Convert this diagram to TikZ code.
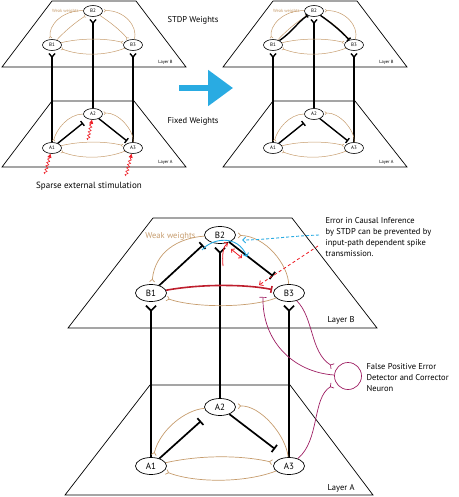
\documentclass[tikz,border=0pt]{standalone}
\usepackage{fontspec}
\setmainfont{PT Sans}
\usetikzlibrary{arrows.meta,shapes.geometric,decorations.pathmorphing}

\definecolor{tan}{RGB}{198,156,109}
\definecolor{sky}{RGB}{41,171,226}
\definecolor{spike}{RGB}{237,28,36}
\definecolor{darkred}{RGB}{190,30,45}
\definecolor{purp}{RGB}{158,31,99}

\begin{document}
\begin{tikzpicture}[x=1pt,y=-1pt,
  plane/.style={line width=0.7pt},
  nsmall/.style={draw, ellipse, minimum width=19pt, minimum height=11pt, inner sep=0pt, line width=0.6pt, font=\fontsize{5}{6}\selectfont},
  nbig/.style={draw, ellipse, minimum width=31pt, minimum height=17pt, inner sep=0pt, line width=0.7pt, font=\fontsize{9}{10}\selectfont},
  axonS/.style={line width=1.4pt, shorten >=2pt, -{Straight Barb[reversed, length=3.5pt, width=6pt]}},
  axon/.style={line width=1.7pt, shorten >=3pt, -{Straight Barb[reversed, length=5pt, width=10pt]}},
  latS/.style={line width=1.4pt, -{Bar[width=6pt]}},
  lat/.style={line width=1.7pt, -{Bar[width=9pt]}},
  weakS/.style={tan, line width=0.5pt, shorten >=1pt, -{Straight Barb[reversed, length=1.5pt, width=3pt]}},
  weak/.style={tan, line width=0.7pt, shorten >=2pt, -{Straight Barb[reversed, length=2.5pt, width=5pt]}},
  stim/.style={spike, line width=0.6pt, decorate, decoration={snake, amplitude=1.3pt, segment length=3.5pt, post length=4pt}, -{Triangle[length=4pt, width=4pt]}},
  label/.style={font=\fontsize{8.5}{11}\selectfont},
  tiny/.style={font=\fontsize{4.5}{5}\selectfont}
]
\useasboundingbox (0,0) rectangle (458,497);

% two small networks: before and after STDP
\foreach \sx/\n in {0/L,221/R}{
  \begin{scope}[xshift=\sx pt]
    \draw[plane] (2,67) -- (52,1) -- (136,1) -- (186,67) -- cycle;
    \draw[plane] (2,167) -- (52,101) -- (134,101) -- (186,167) -- cycle;
    \node[tiny, anchor=east] at (176,62) {Layer B};
    \node[tiny, anchor=east] at (176,162) {Layer A};
    \node[tiny, tan, anchor=east] at (82,11) {Weak weights};

    \node[nsmall] (B2\n) at (93,11) {B2};
    \node[nsmall] (B1\n) at (52,45) {B1};
    \node[nsmall] (B3\n) at (133,45) {B3};
    \node[nsmall] (A2\n) at (93,114) {A2};
    \node[nsmall] (A1\n) at (52,148) {A1};
    \node[nsmall] (A3\n) at (133,148) {A3};

    \draw[axonS] (A1\n) -- (B1\n);
    \draw[axonS] (A2\n) -- (B2\n);
    \draw[axonS] (A3\n) -- (B3\n);

    \coordinate (t1\n) at (83,123);
    \coordinate (t2\n) at (127,141);
    \draw[latS] (A1\n) -- (t1\n);
    \draw[latS] (A2\n) -- (t2\n);

    % weak lateral weights
    \draw[weakS] (B2\n) .. controls (62,10) and (48,26) .. (B1\n);
    \draw[weakS] (B1\n) .. controls (66,30) and (76,22) .. (B2\n);
    \draw[weakS] (B3\n) .. controls (138,26) and (124,10) .. (B2\n);
    \draw[weakS] (B2\n) .. controls (110,22) and (120,30) .. (B3\n);
    \draw[weakS] (B1\n) .. controls (80,38) and (105,38) .. (B3\n);
    \draw[weakS] (B3\n) .. controls (105,56) and (80,56) .. (B1\n);
    \draw[weakS] (A2\n) .. controls (68,114) and (56,130) .. (A1\n);
    \draw[weakS] (A3\n) .. controls (134,130) and (118,112) .. (A2\n);
    \draw[weakS] (A1\n) .. controls (80,141) and (105,141) .. (A3\n);
    \draw[weakS] (A3\n) .. controls (105,159) and (80,159) .. (A1\n);
  \end{scope}
}

% potentiated weights after STDP
\draw[line width=1.4pt, -{Bar[width=4pt]}] (B1R) .. controls (292,32) and (298,22) .. (B2R);
\draw[line width=1.4pt, -{Bar[width=5pt]}] (B2R) .. controls (330,22) and (340,30) .. (B3R);

% external input
\coordinate (s1) at (45,174);
\coordinate (s2) at (88,140);
\coordinate (s3) at (126,176);
\draw[stim] (s1) -- (A1L);
\draw[stim] (s2) -- (A2L);
\draw[stim] (s3) -- (A3L);
\node[label, font=\fontsize{9}{11}\selectfont] at (89,186) {Sparse external stimulation};

\node[label] at (193,20) {STDP Weights};
\node[label] at (193,121) {Fixed Weights};
\draw[sky, line width=5.5pt, -{Triangle[length=25pt, width=35pt]}] (179,88) -- (233,88);

% large network
\draw[plane] (68,328) -- (153,218) -- (292,218) -- (377,328) -- cycle;
\draw[plane] (65,495) -- (150,385) -- (290,385) -- (373,495) -- cycle;
\node[label, anchor=east] at (358,320) {Layer B};
\node[label, anchor=east] at (358,488) {Layer A};
\node[label, tan, anchor=east] at (199,236) {Weak weights};

\node[nbig] (B2) at (220,235) {B2};
\node[nbig] (B1) at (151,293) {B1};
\node[nbig] (B3) at (289,293) {B3};
\node[nbig] (A2) at (220,407) {A2};
\node[nbig] (A1) at (151,466) {A1};
\node[nbig] (A3) at (289,466) {A3};

\draw[axon] (A1) -- (B1);
\draw[axon] (A2) -- (B2);
\draw[axon] (A3) -- (B3);

\coordinate (tB1) at (203,245);
\coordinate (tB3) at (273,276);
\coordinate (tA1) at (201,421);
\coordinate (tA3) at (275,449);
\draw[lat] (B1) -- (tB1);
\draw[lat] (B2) -- (tB3);
\draw[lat] (A1) -- (tA1);
\draw[lat] (A2) -- (tA3);

\draw[weak] (B2) .. controls (178,238) and (155,252) .. (B1);
\draw[weak] (B3) .. controls (288,265) and (266,236) .. (B2);
\draw[weak] (B3) .. controls (250,308) and (195,308) .. (B1);
\draw[darkred, line width=1.6pt, shorten >=2pt, -{Bar[width=7pt]}] (B1) .. controls (200,284) and (245,284) .. (B3);
\draw[weak] (A2) .. controls (185,410) and (160,430) .. (A1);
\draw[weak] (A3) .. controls (286,435) and (260,405) .. (A2);
\draw[weak] (A1) .. controls (200,455) and (240,455) .. (A3);
\draw[weak] (A3) .. controls (245,483) and (195,483) .. (A1);

% corrector neuron
\node[draw=purp, circle, line width=0.7pt, minimum size=27pt, inner sep=0pt] (FP) at (348,376) {};
\node[label, anchor=west, align=left] (fptxt) at (363,378) {False Positive Error\\Detector and Corrector\\Neuron};
\coordinate (inh) at (263,297);
\draw[purp, line width=0.7pt, shorten >=4pt, -{Straight Barb[reversed, length=2.5pt, width=6pt]}] (B3) .. controls (314,318) and (310,352) .. (FP);
\draw[purp, line width=0.7pt, shorten >=4pt, -{Straight Barb[reversed, length=2.5pt, width=6pt]}] (A3) .. controls (320,440) and (312,398) .. (FP);
\draw[purp, line width=0.7pt, -{Bar[width=7pt]}] (FP) .. controls (292,372) and (262,340) .. (inh);

% annotation
\node[label, anchor=west, align=left] (err) at (322,237) {Error in Causal Inference\\by STDP can be prevented by\\input-path dependent spike\\transmission.};
\coordinate (e1) at (319,235);
\coordinate (e2) at (318,246);
\coordinate (bd) at (242,240);
\coordinate (rd) at (259,285);
\draw[sky, line width=0.9pt, dash pattern=on 3pt off 2pt, -{Straight Barb[length=3pt, width=6pt]}] (e1) .. controls (290,236) and (265,240) .. (bd);
\draw[spike, line width=0.8pt, dash pattern=on 3pt off 2.5pt, -{Straight Barb[length=3pt, width=6pt]}] (e2) -- (rd);
\coordinate (b0) at (202,250);
\coordinate (b1) at (247,257);
\draw[sky, line width=0.9pt, -{Straight Barb[length=3pt, width=6pt]}] (b0) .. controls (212,238) and (238,234) .. (b1);
\coordinate (r0) at (223,266);
\coordinate (r1) at (228,243);
\draw[spike, line width=0.8pt, -{Straight Barb[length=2.5pt, width=5pt]}] (r0) .. controls (222,255) and (223,246) .. (r1);
\coordinate (r2) at (231,249);
\coordinate (r3) at (242,258);
\draw[spike, line width=0.8pt, {Straight Barb[length=2.5pt, width=5pt]}-{Straight Barb[length=2.5pt, width=5pt]}] (r2) -- (r3);
\end{tikzpicture}
\end{document}
